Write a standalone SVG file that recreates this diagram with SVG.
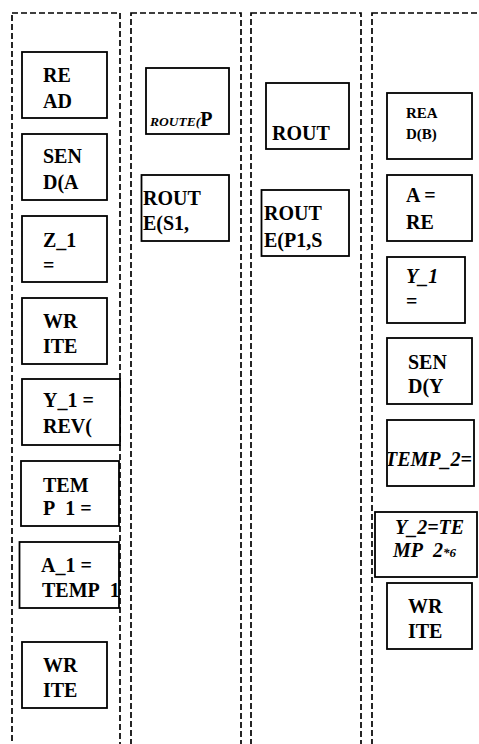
<svg xmlns="http://www.w3.org/2000/svg" width="479" height="744" viewBox="0 0 479 744">
<style>
.lane{fill:none;stroke:#000;stroke-width:1.7;stroke-dasharray:6 3}
.box{fill:#fff;stroke:#000;stroke-width:1.8}
text{font-family:"Liberation Serif","Times New Roman",serif;font-weight:bold;font-size:20px;fill:#000}
.it{font-style:italic}
.sm{font-size:15px}
</style>
<defs>
<clipPath id="c6"><rect x="21" y="461" width="98" height="55"/></clipPath>
<clipPath id="c7"><rect x="19.5" y="542" width="99.5" height="56"/></clipPath>
<clipPath id="c13"><rect x="388" y="420" width="86" height="66"/></clipPath>
<clipPath id="c14"><rect x="375" y="512" width="102" height="45.5"/></clipPath>
</defs>
<rect x="0" y="0" width="479" height="744" fill="#fff"/>
<g id="lanes">
<rect class="lane" x="12" y="13" width="108" height="760"/>
<rect class="lane" x="131" y="13" width="110" height="760"/>
<rect class="lane" x="251" y="13" width="110" height="760"/>
<rect class="lane" x="372" y="13" width="200" height="760"/>
</g>
<g id="connectors"></g>
<g id="n1"><rect class="box" x="22" y="52" width="85" height="66"/><text x="43" y="82">RE</text><text x="43" y="108">AD</text></g>
<g id="n2"><rect class="box" x="22" y="134" width="85" height="66"/><text x="43" y="163">SEN</text><text x="43" y="189">D(A</text></g>
<g id="n3"><rect class="box" x="22" y="216" width="85" height="66"/><text x="43" y="247">Z_1</text><text x="43" y="272">=</text></g>
<g id="n4"><rect class="box" x="22" y="298" width="85" height="66"/><text x="43" y="328">WR</text><text x="43" y="353">ITE</text></g>
<g id="n5"><rect class="box" x="22" y="379" width="98" height="66"/><text x="43" y="407">Y_1 =</text><text x="43" y="433">REV(</text></g>
<g id="n6"><rect class="box" x="21" y="461" width="98" height="65"/><text x="43" y="492">TEM</text><text x="43" y="515" clip-path="url(#c6)">P_1 =</text></g>
<g id="n7"><rect class="box" x="19.5" y="542" width="99.5" height="66"/><text x="41" y="572">A_1 =</text><text x="42" y="597" clip-path="url(#c7)">TEMP_1</text></g>
<g id="n8"><rect class="box" x="22" y="642" width="85" height="66"/><text x="43" y="672">WR</text><text x="43" y="697">ITE</text></g>
<g id="n9"><rect class="box" x="146" y="68" width="83" height="66"/><text x="150" y="126"><tspan class="it" font-size="13.5">ROUTE(</tspan><tspan>P</tspan></text></g>
<g id="n10"><rect class="box" x="141.5" y="175" width="87.5" height="66"/><text x="143" y="205" font-size="21">ROUT</text><text x="143" y="230" font-size="21">E(S1,</text></g>
<g id="n11"><rect class="box" x="266" y="83" width="83" height="66"/><text x="272" y="140">ROUT</text></g>
<g id="n12"><rect class="box" x="261.5" y="190" width="87.5" height="66"/><text x="264" y="220">ROUT</text><text x="264" y="247">E(P1,S</text></g>
<g id="n13"><rect class="box" x="387" y="93" width="85" height="66"/><text class="sm" x="406" y="118">REA</text><text class="sm" x="406" y="139">D(B)</text></g>
<g id="n14"><rect class="box" x="387" y="175" width="85" height="66"/><text x="406" y="202">A =</text><text x="406" y="229">RE</text></g>
<g id="n15"><rect class="box" x="387" y="257" width="78" height="66"/><text class="it" x="406" y="283">Y_1</text><text x="406" y="308">=</text></g>
<g id="n16"><rect class="box" x="387" y="338" width="85" height="66"/><text x="408" y="369">SEN</text><text x="408" y="393">D(Y</text></g>
<g id="n17"><rect class="box" x="387" y="420" width="87" height="66"/><text class="it" x="385" y="466" clip-path="url(#c13)">TEMP_2=</text></g>
<g id="n18"><rect class="box" x="375" y="512" width="102" height="65"/><text class="it" x="395" y="534" font-size="18">Y_2=TE</text><text class="it" x="393" y="557" font-size="18" clip-path="url(#c14)">MP_2<tspan font-size="13">*6</tspan></text></g>
<g id="n19"><rect class="box" x="387" y="583" width="85" height="66"/><text x="408" y="613">WR</text><text x="408" y="638">ITE</text></g>
</svg>
